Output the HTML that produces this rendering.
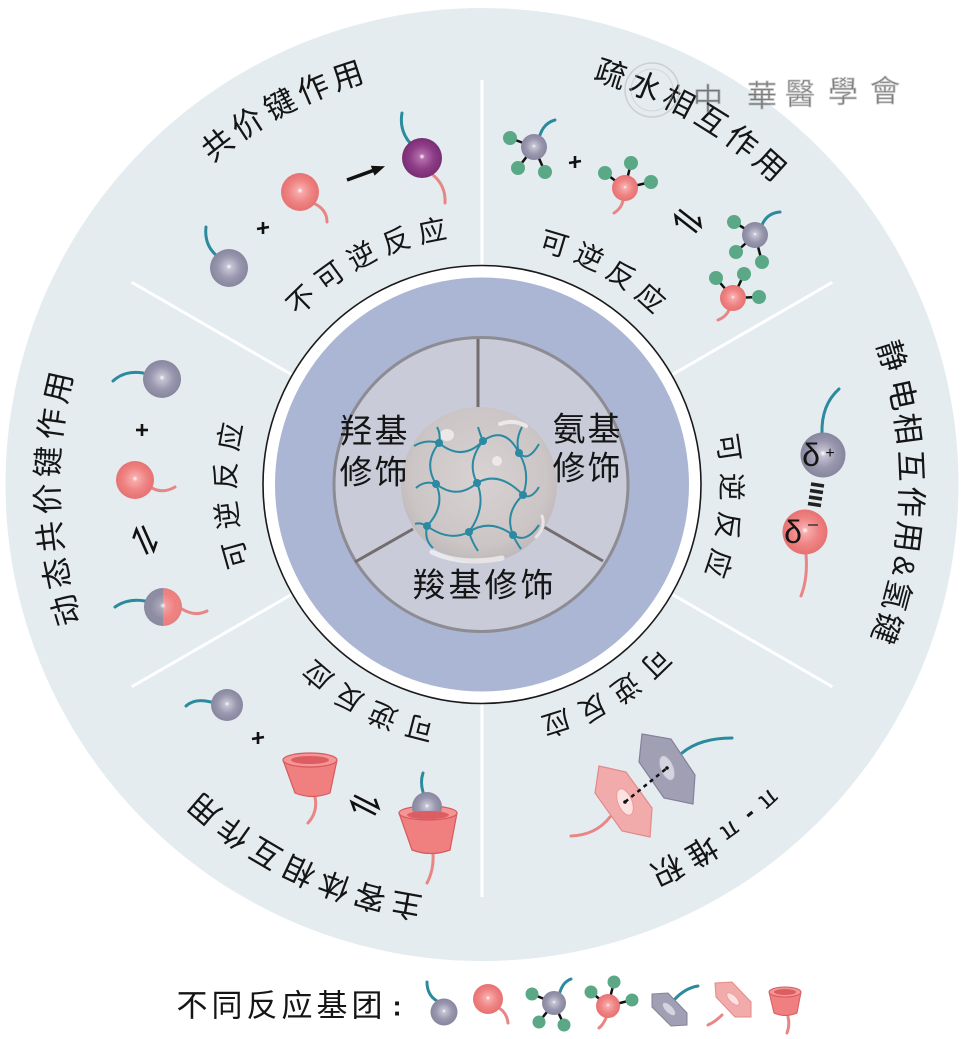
<!DOCTYPE html>
<html><head><meta charset="utf-8">
<style>
html,body{margin:0;padding:0;background:#fff;}
svg{display:block;}
text{font-family:"Liberation Sans","Noto Sans CJK SC",sans-serif;fill:#151515;}
</style></head><body>
<svg width="965" height="1039" viewBox="0 0 965 1039" xmlns="http://www.w3.org/2000/svg">
<defs>
<radialGradient id="gG" cx="50%" cy="50%" r="55%" fx="50%" fy="46%">
<stop offset="0" stop-color="#ffffff"/><stop offset="0.13" stop-color="#c4c2d2"/><stop offset="0.55" stop-color="#9997ae"/><stop offset="1" stop-color="#84829a"/>
</radialGradient>
<radialGradient id="gP" cx="50%" cy="50%" r="55%" fx="50%" fy="46%">
<stop offset="0" stop-color="#ffffff"/><stop offset="0.13" stop-color="#f7abab"/><stop offset="0.55" stop-color="#ef8383"/><stop offset="1" stop-color="#e56d6e"/>
</radialGradient>
<radialGradient id="gU" cx="50%" cy="50%" r="55%" fx="50%" fy="46%">
<stop offset="0" stop-color="#ffffff"/><stop offset="0.13" stop-color="#b46cab"/><stop offset="0.55" stop-color="#8d3d86"/><stop offset="1" stop-color="#74296f"/>
</radialGradient>
<radialGradient id="gH" cx="50%" cy="50%" r="55%" fx="50%" fy="46%">
<stop offset="0" stop-color="#ffffff" stop-opacity="0.9"/><stop offset="0.15" stop-color="#ffffff" stop-opacity="0.25"/><stop offset="0.6" stop-color="#ffffff" stop-opacity="0"/><stop offset="1" stop-color="#000000" stop-opacity="0.08"/>
</radialGradient>
<radialGradient id="gC" cx="50%" cy="45%" r="55%">
<stop offset="0" stop-color="#d8d2d2"/><stop offset="0.8" stop-color="#cbc5c5"/><stop offset="1" stop-color="#bfb9bb"/>
</radialGradient>
<g id="eq" fill="none" stroke="#111" stroke-width="2.6" stroke-linecap="butt">
<path d="M-14,-3.5 H13 L6,-10"/>
<path d="M14,3.5 H-13 L-6,10"/>
</g>
</defs>

<!-- outer disc -->
<circle cx="482" cy="484.5" r="476.5" fill="#e4ecef"/>
<g stroke="#ffffff" stroke-width="3">
<line x1="482" y1="80" x2="482" y2="266" transform="rotate(0 482 484.5)"/>
<line x1="482" y1="80" x2="482" y2="266" transform="rotate(60 482 484.5)"/>
<line x1="482" y1="80" x2="482" y2="266" transform="rotate(120 482 484.5)"/>
<line x1="482" y1="72" x2="482" y2="266" transform="rotate(180 482 484.5)"/>
<line x1="482" y1="80" x2="482" y2="266" transform="rotate(240 482 484.5)"/>
<line x1="482" y1="80" x2="482" y2="266" transform="rotate(300 482 484.5)"/>
</g>

<!-- inner rings -->
<circle cx="482" cy="484.5" r="219" fill="#ffffff" stroke="#1a1a1a" stroke-width="1.6"/>
<circle cx="482" cy="484.5" r="207" fill="#abb5d4"/>
<circle cx="481" cy="484.5" r="147" fill="#c9cbd9" stroke="#8e8c93" stroke-width="3"/>
<g stroke="#736d6d" stroke-width="3">
<line x1="478" y1="339" x2="478" y2="408"/>
<line x1="413" y1="529" x2="355" y2="562"/>
<line x1="544" y1="527" x2="603" y2="561"/>
</g>

<!-- core -->
<circle cx="479" cy="485" r="78" fill="url(#gC)"/>
<g fill="none" stroke="#ffffff" stroke-linecap="round" opacity="0.6">
<path d="M500,424 Q514,419 526,426" stroke-width="4"/>
<path d="M432,552 Q462,566 502,558" stroke-width="5"/>
<path d="M536,537 Q546,527 542,516" stroke-width="3"/>
</g>
<ellipse cx="447" cy="435" rx="7" ry="6" fill="#f2f0f0" opacity="0.8"/>
<circle cx="497" cy="461" r="5" fill="#f2f0f0" opacity="0.8"/>
<g fill="none" stroke="#2b89a2" stroke-width="2">
<path d="M414,446 Q426,439 439,443 Q462,462 483,441 Q505,425 519,453 Q528,463 539,444"/>
<path d="M416,488 Q425,480 436,484 Q457,500 477,483 Q499,470 523,495 Q531,500 539,487"/>
<path d="M415,524 Q420,522 427,526 Q449,542 469,532 Q490,518 513,535 Q526,544 539,525"/>
<path d="M437,427 Q441,434 439,443 Q423,463 436,484 Q446,506 427,526 Q424,540 433,548"/>
<path d="M478,427 Q480,434 483,441 Q466,462 477,483 Q487,507 469,532 Q472,542 478,551"/>
<path d="M522,427 Q515,440 519,453 Q531,473 523,495 Q504,513 513,535 Q516,542 521,549"/>
</g>
<g fill="#2b89a2">
<circle cx="439" cy="443" r="4"/><circle cx="483" cy="441" r="4"/><circle cx="519" cy="453" r="4"/>
<circle cx="436" cy="484" r="4"/><circle cx="477" cy="483" r="4"/><circle cx="523" cy="495" r="4"/>
<circle cx="427" cy="526" r="4"/><circle cx="469" cy="532" r="4"/><circle cx="513" cy="535" r="4"/>
</g>

<!-- center texts -->
<g font-size="33" text-anchor="middle" dominant-baseline="central">
<text x="356" y="431">羟</text><text x="391" y="431">基</text>
<text x="356" y="472">修</text><text x="391" y="472">饰</text>
<text x="569" y="429">氨</text><text x="604" y="429">基</text>
<text x="569" y="468">修</text><text x="604" y="468">饰</text>
<text x="429" y="585">羧</text><text x="465" y="585">基</text><text x="501" y="585">修</text><text x="537" y="585">饰</text>
</g>

<!-- circular labels -->
<g text-anchor="middle" dominant-baseline="central" font-size="31">
<text x="482" y="54.5" transform="rotate(-37.9 482 484.5)">共</text>
<text x="482" y="54.5" transform="rotate(-33.0 482 484.5)">价</text>
<text x="482" y="54.5" transform="rotate(-28.0 482 484.5)">键</text>
<text x="482" y="54.5" transform="rotate(-23.1 482 484.5)">作</text>
<text x="482" y="54.5" transform="rotate(-18.2 482 484.5)">用</text>

<text x="482" y="54.5" transform="rotate(17.4 482 484.5)">疏</text>
<text x="482" y="54.5" transform="rotate(22.3 482 484.5)">水</text>
<text x="482" y="54.5" transform="rotate(27.2 482 484.5)">相</text>
<text x="482" y="54.5" transform="rotate(32.2 482 484.5)">互</text>
<text x="482" y="54.5" transform="rotate(37.1 482 484.5)">作</text>
<text x="482" y="54.5" transform="rotate(42.0 482 484.5)">用</text>

<text x="482" y="55.5" transform="rotate(72.6 482 484.5)">静</text>
<text x="482" y="55.5" transform="rotate(77.9 482 484.5)">电</text>
<text x="482" y="55.5" transform="rotate(82.5 482 484.5)">相</text>
<text x="482" y="55.5" transform="rotate(87.5 482 484.5)">互</text>
<text x="482" y="55.5" transform="rotate(92.3 482 484.5)">作</text>
<text x="482" y="55.5" transform="rotate(97.0 482 484.5)">用</text>
<text x="482" y="55.5" transform="rotate(101.0 482 484.5)" font-family="Liberation Serif" font-size="30">&amp;</text>
<text x="482" y="55.5" transform="rotate(105.0 482 484.5)">氢</text>
<text x="482" y="55.5" transform="rotate(109.5 482 484.5)">键</text>

<text x="482" y="57.5" transform="rotate(137.7 482 484.5)" font-family="Liberation Serif" font-size="26">π</text>
<text x="482" y="57.5" transform="rotate(140.9 482 484.5)" font-size="26" font-weight="bold">-</text>
<text x="482" y="57.5" transform="rotate(144.4 482 484.5)" font-family="Liberation Serif" font-size="26">π</text>
<text x="482" y="57.5" transform="rotate(149.1 482 484.5)">堆</text>
<text x="482" y="57.5" transform="rotate(154.3 482 484.5)">积</text>

<text x="482" y="57.5" transform="rotate(190.2 482 484.5)">主</text>
<text x="482" y="57.5" transform="rotate(195.2 482 484.5)">客</text>
<text x="482" y="57.5" transform="rotate(200.2 482 484.5)">体</text>
<text x="482" y="57.5" transform="rotate(205.3 482 484.5)">相</text>
<text x="482" y="57.5" transform="rotate(210.4 482 484.5)">互</text>
<text x="482" y="57.5" transform="rotate(215.4 482 484.5)">作</text>
<text x="482" y="57.5" transform="rotate(220.5 482 484.5)">用</text>

<text x="482" y="50.5" transform="rotate(253.2 482 484.5)">动</text>
<text x="482" y="50.5" transform="rotate(258.2 482 484.5)">态</text>
<text x="482" y="50.5" transform="rotate(263.1 482 484.5)">共</text>
<text x="482" y="50.5" transform="rotate(268.1 482 484.5)">价</text>
<text x="482" y="50.5" transform="rotate(273.0 482 484.5)">键</text>
<text x="482" y="50.5" transform="rotate(278.0 482 484.5)">作</text>
<text x="482" y="50.5" transform="rotate(282.9 482 484.5)">用</text>
</g>

<g text-anchor="middle" dominant-baseline="central" font-size="28">
<text x="482" y="226.5" transform="rotate(-44.4 482 484.5)">不</text>
<text x="482" y="226.5" transform="rotate(-36.1 482 484.5)">可</text>
<text x="482" y="226.5" transform="rotate(-27.8 482 484.5)">逆</text>
<text x="482" y="226.5" transform="rotate(-19.4 482 484.5)">反</text>
<text x="482" y="226.5" transform="rotate(-11.1 482 484.5)">应</text>

<text x="482" y="233.5" transform="rotate(16.7 482 484.5)">可</text>
<text x="482" y="233.5" transform="rotate(25.2 482 484.5)">逆</text>
<text x="482" y="233.5" transform="rotate(33.6 482 484.5)">反</text>
<text x="482" y="233.5" transform="rotate(42.1 482 484.5)">应</text>

<text x="482" y="235.5" transform="rotate(81.5 482 484.5)">可</text>
<text x="482" y="235.5" transform="rotate(90.5 482 484.5)">逆</text>
<text x="482" y="235.5" transform="rotate(99.5 482 484.5)">反</text>
<text x="482" y="235.5" transform="rotate(108.5 482 484.5)">应</text>

<text x="482" y="235.5" transform="rotate(135.8 482 484.5)">可</text>
<text x="482" y="235.5" transform="rotate(144.8 482 484.5)">逆</text>
<text x="482" y="235.5" transform="rotate(153.7 482 484.5)">反</text>
<text x="482" y="235.5" transform="rotate(162.7 482 484.5)">应</text>

<text x="482" y="233.5" transform="rotate(194.4 482 484.5)">可</text>
<text x="482" y="233.5" transform="rotate(203.2 482 484.5)">逆</text>
<text x="482" y="233.5" transform="rotate(212.0 482 484.5)">反</text>
<text x="482" y="233.5" transform="rotate(220.7 482 484.5)">应</text>

<text x="482" y="228.5" transform="rotate(254.2 482 484.5)">可</text>
<text x="482" y="228.5" transform="rotate(263.1 482 484.5)">逆</text>
<text x="482" y="228.5" transform="rotate(272.0 482 484.5)">反</text>
<text x="482" y="228.5" transform="rotate(280.8 482 484.5)">应</text>
</g>

<!-- watermark -->
<g opacity="0.55">
<circle cx="652" cy="90" r="27" fill="none" stroke="#b8b8b8" stroke-width="1.5"/>
<circle cx="652" cy="90" r="21" fill="none" stroke="#c4c4c4" stroke-width="1"/>
<g font-size="30" text-anchor="middle" dominant-baseline="central" style="font-family:'Noto Serif CJK SC',serif;fill:#fafafa;stroke:#a0a0a0;stroke-width:0.8">
<text x="708" y="100">中</text>
<text x="762" y="97">華</text>
<text x="800" y="95">醫</text>
<text x="843" y="93">學</text>
<text x="885" y="92">會</text>
</g>
</g>

<!-- ===== icons ===== -->
<g fill="none" stroke-linecap="round" stroke-width="3">
<path d="M206,227 Q204,245 217,256" stroke="#2b8a9d"/>
<path d="M313,203 Q327,209 327,222" stroke="#e88686"/>
<path d="M402,113 Q399,130 410,143" stroke="#2b8a9d"/>
<path d="M433,175 Q446,186 445,203" stroke="#e88686"/>
<path d="M540,135 Q544,123 555,120" stroke="#2b8a9d"/>
<path d="M623,200 Q622,208 614,213" stroke="#e88686"/>
<path d="M762,225 Q767,213 780,212" stroke="#2b8a9d"/>
<path d="M729,310 Q726,317 718,320" stroke="#e88686"/>
<path d="M822,434 Q821,405 839,389" stroke="#2b8a9d"/>
<path d="M806,554 Q808,578 801,596" stroke="#e88686"/>
<path d="M682,753 Q700,738 732,738" stroke="#2b8a9d"/>
<path d="M610,817 Q596,835 571,836" stroke="#e88686"/>
<path d="M211,702 Q195,698 186,706" stroke="#2b8a9d"/>
<path d="M315,797 Q318,812 308,823" stroke="#e88686"/>
<path d="M423,792 Q420,782 423,773" stroke="#2b8a9d"/>
<path d="M433,853 Q434,870 427,883" stroke="#e88686"/>
<path d="M143,373 Q125,370 113,381" stroke="#2b8a9d"/>
<path d="M152,488 Q163,494 175,487" stroke="#e88686"/>
<path d="M145,601 Q128,598 115,607" stroke="#2b8a9d"/>
<path d="M182,609 Q195,617 207,611" stroke="#e88686"/>
<path d="M427,982 Q427,995 437,1001" stroke="#2b8a9d"/>
<path d="M499,1008 Q507,1013 508,1023" stroke="#e88686"/>
<path d="M560,992 Q563,982 571,979" stroke="#2b8a9d"/>
<path d="M606,1018 Q603,1025 599,1028" stroke="#e88686"/>
<path d="M674,1000 Q685,988 698,986" stroke="#2b8a9d"/>
<path d="M722,1015 Q715,1022 708,1025" stroke="#e88686"/>
<path d="M788,1017 Q790,1025 787,1033" stroke="#e88686"/>
</g>

<circle cx="229" cy="268" r="19" fill="url(#gG)"/>
<circle cx="300" cy="192" r="19" fill="url(#gP)"/>
<circle cx="422" cy="158" r="20" fill="url(#gU)"/>
<g stroke="#111" stroke-width="2.6">
<line x1="257" y1="229" x2="269" y2="227"/><line x1="263" y1="222" x2="263" y2="234"/>
<line x1="569" y1="163" x2="581" y2="161"/><line x1="575" y1="156" x2="575" y2="168"/>
<line x1="136" y1="430" x2="148" y2="430"/><line x1="142" y1="424" x2="142" y2="436"/>
<line x1="252" y1="739" x2="264" y2="737"/><line x1="258" y1="732" x2="258" y2="744"/>
</g>
<line x1="347" y1="180" x2="374" y2="170.2" stroke="#111" stroke-width="3.5"/>
<polygon points="385,166.3 374.5,175.6 370.8,165.8" fill="#111"/>

<g stroke="#111" stroke-width="2.5">
<line x1="534" y1="147" x2="510" y2="138"/><line x1="534" y1="147" x2="518" y2="168"/><line x1="534" y1="147" x2="545" y2="172"/>
<line x1="625" y1="188" x2="605" y2="173"/><line x1="625" y1="188" x2="631" y2="163"/><line x1="625" y1="188" x2="651" y2="182"/>
<line x1="755" y1="235" x2="734" y2="222"/><line x1="755" y1="235" x2="736" y2="252"/><line x1="755" y1="235" x2="762" y2="262"/>
<line x1="733" y1="298" x2="716" y2="278"/><line x1="733" y1="298" x2="744" y2="274"/><line x1="733" y1="298" x2="759" y2="297"/>
<line x1="554" y1="1003" x2="532" y2="994"/><line x1="554" y1="1003" x2="539" y2="1022"/><line x1="554" y1="1003" x2="564" y2="1025"/>
<line x1="608" y1="1006" x2="591" y2="992"/><line x1="608" y1="1006" x2="614" y2="982"/><line x1="608" y1="1006" x2="632" y2="1000"/>
</g>
<g fill="#5aa886">
<circle cx="510" cy="138" r="7"/><circle cx="518" cy="168" r="7"/><circle cx="545" cy="172" r="7"/>
<circle cx="605" cy="173" r="7"/><circle cx="631" cy="163" r="7"/><circle cx="651" cy="182" r="7"/>
<circle cx="734" cy="222" r="7"/><circle cx="736" cy="252" r="7"/><circle cx="762" cy="262" r="7"/>
<circle cx="716" cy="278" r="7"/><circle cx="744" cy="274" r="7"/><circle cx="759" cy="297" r="7"/>
<circle cx="532" cy="994" r="6.5"/><circle cx="539" cy="1022" r="6.5"/><circle cx="564" cy="1025" r="6.5"/>
<circle cx="591" cy="992" r="6.5"/><circle cx="614" cy="982" r="6.5"/><circle cx="632" cy="1000" r="6.5"/>
</g>
<circle cx="534" cy="147" r="13" fill="url(#gG)"/>
<circle cx="625" cy="188" r="13" fill="url(#gP)"/>
<circle cx="755" cy="235" r="13" fill="url(#gG)"/>
<circle cx="733" cy="298" r="13" fill="url(#gP)"/>
<use href="#eq" transform="translate(688,221) rotate(38)"/>

<!-- right: electrostatic -->
<circle cx="823" cy="455" r="22.5" fill="url(#gG)"/>
<circle cx="805" cy="532" r="22.5" fill="url(#gP)"/>
<g stroke="#222" stroke-width="3.5">
<line x1="811" y1="484" x2="824" y2="486"/>
<line x1="810" y1="490.5" x2="823" y2="492.5"/>
<line x1="809" y1="497" x2="822" y2="499"/>
<line x1="808" y1="503.5" x2="821" y2="505.5"/>
</g>
<text x="811" y="466" font-family="Liberation Serif" font-size="32" text-anchor="middle">δ</text>
<text x="830" y="458" font-family="Liberation Serif" font-size="16" text-anchor="middle">+</text>
<text x="793" y="543" font-family="Liberation Serif" font-size="32" text-anchor="middle">δ</text>
<line x1="808" y1="525" x2="818" y2="525" stroke="#333" stroke-width="1.4"/>

<!-- bottom-right: pi stacking -->
<polygon points="599,766 626,772 652,808 650,837 622,831 595,793" fill="#f2abab" stroke="#e28a8a" stroke-width="1.2"/>
<ellipse cx="625" cy="802" rx="7" ry="14" transform="rotate(-22 625 802)" fill="#fce1e1" stroke="#e99" stroke-width="1"/>
<polygon points="642,734 671,739 695,775 693,804 664,798 639,762" fill="#a09fb3" stroke="#83829a" stroke-width="1.2"/>
<ellipse cx="667" cy="768" rx="6.5" ry="13" transform="rotate(-22 667 768)" fill="#d4d3e0" stroke="#aaa9bb" stroke-width="1"/>
<line x1="625" y1="802" x2="667" y2="768" stroke="#111" stroke-width="2.5" stroke-dasharray="4 4"/>
<circle cx="625" cy="802" r="1.8" fill="#111"/>
<circle cx="667" cy="768" r="1.8" fill="#111"/>

<!-- bottom-left: host guest -->
<circle cx="227" cy="705" r="16" fill="url(#gG)"/>
<path d="M283,760 A27,7 0 0 0 337,760 L330,793 Q312,800 295,793 Z" fill="#f07f80" stroke="#d85a5c" stroke-width="1.2"/>
<ellipse cx="310" cy="760" rx="27" ry="7" fill="#f49596" stroke="#d85a5c" stroke-width="1.2"/>
<ellipse cx="310" cy="760" rx="19" ry="4" fill="#dc5d62"/>
<use href="#eq" transform="translate(365,805) rotate(27)"/>
<ellipse cx="428" cy="813" rx="29" ry="7" fill="#f49596" stroke="#d85a5c" stroke-width="1.2"/>
<circle cx="427" cy="807" r="15" fill="url(#gG)"/>
<ellipse cx="428" cy="815" rx="21" ry="4" fill="#dc5d62"/>
<path d="M399,813 A29,7 0 0 0 457,813 L450,850 Q431,857 412,850 Z" fill="#f07f80" stroke="#d85a5c" stroke-width="1.2"/>

<!-- left: dynamic covalent -->
<circle cx="162" cy="379" r="19" fill="url(#gG)"/>
<circle cx="135" cy="480" r="19" fill="url(#gP)"/>
<use href="#eq" transform="translate(145,540) rotate(66)"/>
<path d="M163,588 A19,19 0 0 0 163,626 Z" fill="#8e8ca3"/>
<path d="M163,588 A19,19 0 0 1 163,626 Z" fill="#ef8080"/>
<circle cx="163" cy="607" r="19" fill="url(#gH)"/>

<!-- legend -->
<g text-anchor="middle" dominant-baseline="central" font-size="31">
<text x="192" y="1006">不</text><text x="227" y="1006">同</text><text x="262" y="1006">反</text>
<text x="297" y="1006">应</text><text x="332" y="1006">基</text><text x="367" y="1006">团</text>
<text x="397" y="1006" font-weight="bold" font-size="28">:</text>
</g>
<circle cx="444" cy="1012" r="13.5" fill="url(#gG)"/>
<circle cx="488" cy="999" r="15" fill="url(#gP)"/>
<circle cx="554" cy="1003" r="12" fill="url(#gG)"/>
<circle cx="608" cy="1006" r="12" fill="url(#gP)"/>
<polygon points="652,994 668,993 687,1013 687,1025 671,1026 652,1007" fill="#a09fb3" stroke="#83829a" stroke-width="1"/>
<ellipse cx="669" cy="1009" rx="3.5" ry="8" transform="rotate(-45 669 1009)" fill="#d4d3e0"/>
<polygon points="715,983 732,982 751,1002 751,1017 735,1017 716,997" fill="#f2abab" stroke="#e28a8a" stroke-width="1"/>
<ellipse cx="733" cy="999" rx="3.5" ry="8" transform="rotate(-45 733 999)" fill="#fce1e1" stroke="#e99" stroke-width="0.8"/>
<path d="M769,992 A16,5 0 0 0 801,992 L797,1013 Q785,1018 774,1013 Z" fill="#f07f80" stroke="#d85a5c" stroke-width="1"/>
<ellipse cx="785" cy="992" rx="16" ry="5" fill="#f49596" stroke="#d85a5c" stroke-width="1"/>
<ellipse cx="785" cy="992" rx="11" ry="3" fill="#dc5d62"/>
</svg>
</body></html>
